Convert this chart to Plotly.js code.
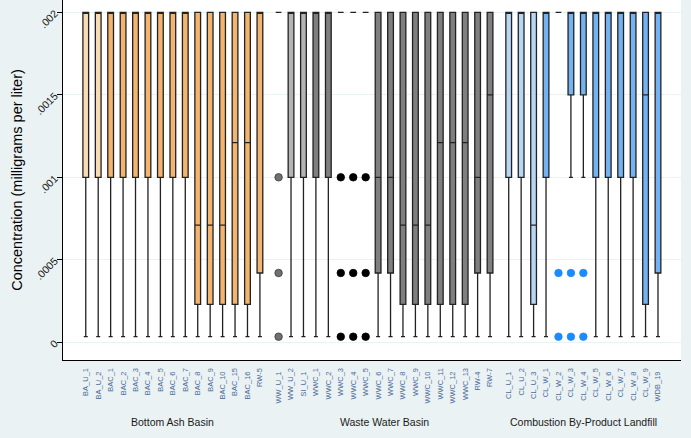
<!DOCTYPE html>
<html>
<head>
<meta charset="utf-8">
<script src="https://cdn.plot.ly/plotly-3.0.1.min.js"></script>
<style>html,body{margin:0;padding:0;background:#eaf2f3;}#chart{width:691px;height:438px;}</style>
</head>
<body>
<div id="chart"></div>
<script>
// ---------- data ----------
const groupNames = ["Bottom Ash Basin", "Waste Water Basin", "Combustion By-Product Landfill"];

const wells = [
  "BA_U_1","BA_U_2","BAC_1","BAC_2","BAC_3","BAC_4","BAC_5","BAC_6","BAC_7","BAC_8","BAC_9","BAC_10","BAC_15","BAC_16","RW-5",
  "WW_U_1","WW_U_2","SI_U_1","WWC_1","WWC_2","WWC_3","WWC_4","WWC_5","WWC_6","WWC_7","WWC_8","WWC_9","WWC_10","WWC_11","WWC_12","WWC_13","RW-4","RW-7",
  "CL_U_1","CL_U_2","CL_U_3","CL_W_1","CL_W_2","CL_W_3","CL_W_4","CL_W_5","CL_W_6","CL_W_7","CL_W_8","CL_W_9","WDB_19"
];
const wellGroup = [
  0,0,0,0,0,0,0,0,0,0,0,0,0,0,0,
  1,1,1,1,1,1,1,1,1,1,1,1,1,1,1,1,1,1,
  2,2,2,2,2,2,2,2,2,2,2,2,2
];
// 1 = upgradient (lighter fill), 0 = downgradient
const upgradient = [
  1,1,0,0,0,0,0,0,0,0,0,0,0,0,0,
  1,1,1,0,0,0,0,0,0,0,0,0,0,0,0,0,0,0,
  1,1,1,0,0,0,0,0,0,0,0,0,0
];

const lowerWhisker = [
  0.000034,0.000034,0.000034,0.000034,0.000034,0.000034,0.000034,0.000034,0.000034,0.000034,0.000034,0.000034,0.000034,0.000034,0.000034,
  0.002,0.000034,0.000034,0.000034,0.000034,0.002,0.002,0.002,0.000034,0.000034,0.000034,0.000034,0.000034,0.000034,0.000034,0.000034,0.000034,0.000034,
  0.000034,0.000034,0.000034,0.000034,0.002,0.001,0.001,0.000034,0.000034,0.000034,0.000034,0.000034,0.000034
];
const q1 = [
  0.001,0.001,0.001,0.001,0.001,0.001,0.001,0.001,0.001,0.00023,0.00023,0.00023,0.00023,0.00023,0.00042,
  0.002,0.001,0.001,0.001,0.001,0.002,0.002,0.002,0.00042,0.00042,0.00023,0.00023,0.00023,0.00023,0.00023,0.00023,0.00042,0.00042,
  0.001,0.001,0.00023,0.001,0.002,0.0015,0.0015,0.001,0.001,0.001,0.001,0.00023,0.00042
];
const median = [
  0.002,0.002,0.002,0.002,0.002,0.002,0.002,0.002,0.002,0.00071,0.00071,0.00071,0.00121,0.00121,0.002,
  0.002,0.002,0.002,0.002,0.002,0.002,0.002,0.002,0.001,0.001,0.00071,0.00071,0.00071,0.00121,0.00121,0.00121,0.001,0.0015,
  0.002,0.002,0.00071,0.002,0.002,0.002,0.002,0.002,0.002,0.002,0.002,0.0015,0.002
];
const q3 = [
  0.002,0.002,0.002,0.002,0.002,0.002,0.002,0.002,0.002,0.002,0.002,0.002,0.002,0.002,0.002,
  0.002,0.002,0.002,0.002,0.002,0.002,0.002,0.002,0.002,0.002,0.002,0.002,0.002,0.002,0.002,0.002,0.002,0.002,
  0.002,0.002,0.002,0.002,0.002,0.002,0.002,0.002,0.002,0.002,0.002,0.002,0.002
];
const upperWhisker = [
  0.002,0.002,0.002,0.002,0.002,0.002,0.002,0.002,0.002,0.002,0.002,0.002,0.002,0.002,0.002,
  0.002,0.002,0.002,0.002,0.002,0.002,0.002,0.002,0.002,0.002,0.002,0.002,0.002,0.002,0.002,0.002,0.002,0.002,
  0.002,0.002,0.002,0.002,0.002,0.002,0.002,0.002,0.002,0.002,0.002,0.002,0.002
];

// outside values: well name and concentration
const outlierWell = [
  "WW_U_1","WW_U_1","WW_U_1",
  "WWC_3","WWC_3","WWC_3","WWC_4","WWC_4","WWC_4","WWC_5","WWC_5","WWC_5",
  "CL_W_2","CL_W_2","CL_W_3","CL_W_3","CL_W_4","CL_W_4"
];
const outlierValue = [
  0.001,0.00042,0.000034,
  0.001,0.00042,0.000034,0.001,0.00042,0.000034,0.001,0.00042,0.000034,
  0.00042,0.000034,0.00042,0.000034,0.00042,0.000034
];

const yTickVals = [0, 0.0005, 0.001, 0.0015, 0.002];
const yTickText = ["0", ".0005", ".001", ".0015", ".002"];

// ---------- styles ----------
const FONT = "Liberation Sans, Arial, sans-serif";
const fills = [
  {up: "#f9dcb5", down: "#f2b46e"},
  {up: "#b4b4b4", down: "#7f7f7f"},
  {up: "#b7d6f5", down: "#74b3f1"}
];
const outlierColors = ["#707070", "#000000", "#1a8cff"];
const GROUP_GAP = 0.5;

// positions along the category axis (extra gap between groups)
const xpos = wells.map((w, i) => i + GROUP_GAP * wellGroup[i]);

const traces = [];
for (let g = 0; g < 3; g++) {
  for (const up of [1, 0]) {
    const idx = wells.map((w, i) => i).filter(i => wellGroup[i] === g && upgradient[i] === up);
    if (!idx.length) continue;
    traces.push({
      type: "box",
      x: idx.map(i => xpos[i]),
      q1: idx.map(i => q1[i]),
      median: idx.map(i => median[i]),
      q3: idx.map(i => q3[i]),
      lowerfence: idx.map(i => lowerWhisker[i]),
      upperfence: idx.map(i => upperWhisker[i]),
      boxpoints: false,
      width: 0.46,
      whiskerwidth: 0.7,
      fillcolor: up ? fills[g].up : fills[g].down,
      line: {color: "#222222", width: 1.3},
      hoverinfo: "skip",
      showlegend: false
    });
  }
}
// outside values, coloured like their wells
for (let g = 0; g < 3; g++) {
  const ox = [], oy = [], cols = [], lines = [];
  outlierWell.forEach((w, k) => {
    const i = wells.indexOf(w);
    if (wellGroup[i] !== g) return;
    ox.push(xpos[i]); oy.push(outlierValue[k]);
    const c = upgradient[i] ? outlierColors[0] : outlierColors[g];
    cols.push(c);
    lines.push(upgradient[i] ? "#3a3a3a" : c);
  });
  if (!ox.length) continue;
  traces.push({
    type: "scatter", mode: "markers", x: ox, y: oy,
    marker: {size: 7.5, color: cols, line: {color: lines, width: 0.8}},
    hoverinfo: "skip", showlegend: false
  });
}
// empty trace to carry the second (staggered) label axis
traces.push({type: "scatter", x: [], y: [], xaxis: "x2", yaxis: "y", showlegend: false, hoverinfo: "skip"});

const evenIdx = wells.map((w, i) => i).filter(i => i % 2 === 0);
const oddIdx = wells.map((w, i) => i).filter(i => i % 2 === 1);
const xRange = [-1.83, xpos[xpos.length - 1] + 1.85];

const baseX = {
  range: xRange, showgrid: false, zeroline: false, ticks: "",
  tickangle: -90, tickfont: {family: FONT, size: 7.5, color: "#4a6a98"}
};

const annotations = groupNames.map((name, g) => {
  const xs = xpos.filter((p, i) => wellGroup[i] === g);
  return {
    text: name, xref: "x", yref: "paper",
    x: (xs[0] + xs[xs.length - 1]) / 2, y: -0.171,
    xanchor: "center", yanchor: "middle", showarrow: false,
    font: {family: FONT, size: 10.5, color: "#1a1a1a"}
  };
});

const layout = {
  width: 691, height: 438,
  margin: {l: 63, r: 10, t: 0, b: 78},
  paper_bgcolor: "#eaf2f3", plot_bgcolor: "#ffffff",
  font: {family: FONT},
  showlegend: false,
  xaxis: Object.assign({}, baseX, {
    tickvals: evenIdx.map(i => xpos[i]), ticktext: evenIdx.map(i => wells[i]),
    showline: true, linecolor: "#000000", linewidth: 1, ticklabelstandoff: 4
  }),
  xaxis2: Object.assign({}, baseX, {
    overlaying: "x", anchor: "y", side: "bottom",
    tickvals: oddIdx.map(i => xpos[i]), ticktext: oddIdx.map(i => wells[i]),
    showline: false, ticklabelstandoff: 9
  }),
  yaxis: {
    range: [-0.0001073, 0.0020745],
    tickvals: yTickVals, ticktext: yTickText, tickangle: -45,
    tickfont: {family: FONT, size: 10.5, color: "#1a1a1a"},
    ticks: "outside", ticklen: 5, tickcolor: "#000000", tickwidth: 1,
    showline: true, linecolor: "#000000", linewidth: 1,
    showgrid: true, gridcolor: "#eaf2f3", gridwidth: 1, zeroline: false,
    title: {text: "Concentration (milligrams per liter)", font: {family: FONT, size: 14.5, color: "#000000"}, standoff: 6}
  },
  annotations: annotations
};

Plotly.newPlot("chart", traces, layout, {displayModeBar: false, staticPlot: true});
</script>
</body>
</html>
